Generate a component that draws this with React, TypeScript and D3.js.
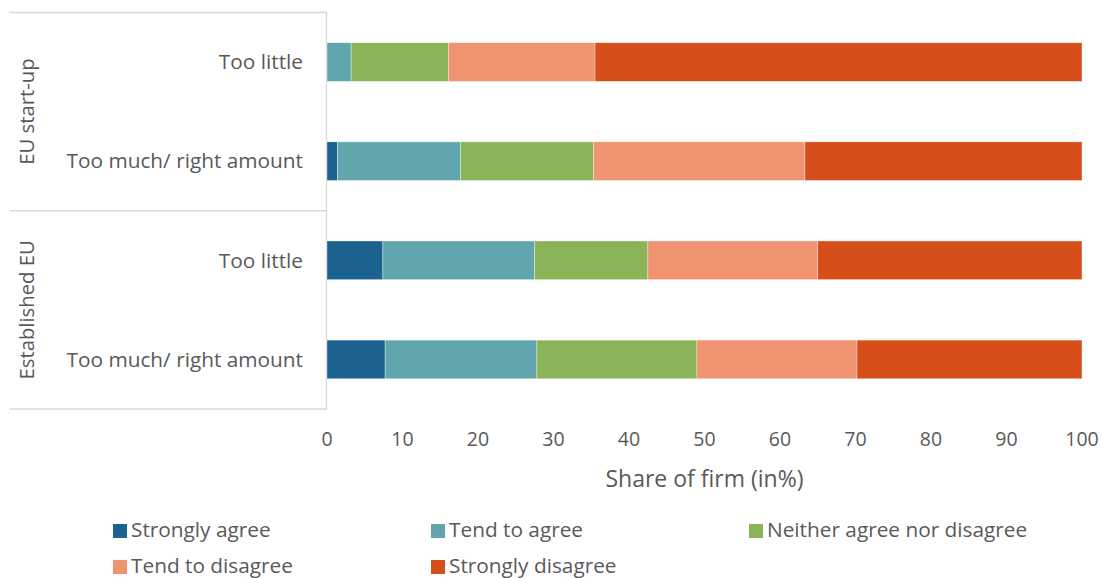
import React from "react";
import * as d3 from "d3";

const groups = ["EU start-up", "Established EU"];
const rowLabels = ["Too little", "Too much/ right amount", "Too little", "Too much/ right amount"];
const rowGroups = ["EU start-up", "EU start-up", "Established EU", "Established EU"];
const seriesNames = ["Strongly agree", "Tend to agree", "Neither agree nor disagree", "Tend to disagree", "Strongly disagree"];
const seriesColors = ["#1B6291", "#62A6AD", "#8BB357", "#EF9370", "#D64F1B"];
const stronglyAgree = [0, 1.4, 7.4, 7.7];
const tendToAgree = [3.2, 16.3, 20.1, 20.1];
const neither = [12.9, 17.6, 15.0, 21.2];
const tendToDisagree = [19.4, 28.0, 22.5, 21.2];
const stronglyDisagree = [64.5, 36.7, 35.0, 29.8];
const xTicks = [0, 10, 20, 30, 40, 50, 60, 70, 80, 90, 100];

const W = 1103;
const H = 578;
const FONT = "'Open Sans', sans-serif";
const TEXT = "#595959";
const GRID = "#D9D9D9";

export default function App() {
  const seriesValues = [stronglyAgree, tendToAgree, neither, tendToDisagree, stronglyDisagree];
  const rows = rowLabels.map((label, i) => {
    const obj: any = { id: String(i), label, group: rowGroups[i] };
    seriesNames.forEach((s, k) => (obj[s] = seriesValues[k][i]));
    return obj;
  });
  const stack = d3.stack<any>().keys(seriesNames)(rows);

  const x = d3.scaleLinear().domain([0, 100]).range([327, 1082]);
  const y = d3.scaleBand().domain(rows.map((r) => r.id)).range([12.5, 409]).paddingInner(0.61).paddingOuter(0.305);
  const bandFull = (409 - 12.5) / 4;

  const groupExtents = groups.map((g) => {
    const idx = rowGroups.map((rg, i) => (rg === g ? i : -1)).filter((i) => i >= 0);
    const top = 12.5 + idx[0] * bandFull;
    const bottom = 12.5 + (idx[idx.length - 1] + 1) * bandFull;
    return { g, top, bottom };
  });

  const legendPos = [
    { x: 113, y: 524 },
    { x: 431, y: 524 },
    { x: 749, y: 524 },
    { x: 113, y: 560 },
    { x: 431, y: 560 },
  ];

  return (
    <svg width={W} height={H} style={{ position: "absolute", left: 0, top: 0, background: "#fff" }}>
      <rect x={0} y={0} width={W} height={H} fill="#fff" />
      {groupExtents.map((e, i) => (
        <line key={"gl" + i} x1={9.5} x2={327} y1={e.top} y2={e.top} stroke={GRID} strokeWidth={1.3} />
      ))}
      <line x1={9.5} x2={327} y1={409} y2={409} stroke={GRID} strokeWidth={1.3} />
      <line x1={326.5} x2={326.5} y1={12.5} y2={409} stroke={GRID} strokeWidth={1.3} />

      {stack.map((layer, k) => (
        <g key={layer.key} fill={seriesColors[k]}>
          {layer.map((d, i) =>
            d[1] - d[0] > 0 ? (
              <rect
                key={i}
                x={x(d[0])}
                width={x(d[1]) - x(d[0])}
                y={y(String(i))}
                height={y.bandwidth()}
                stroke="#fff"
                strokeOpacity={0.6}
                strokeWidth={0.6}
              />
            ) : null
          )}
        </g>
      ))}

      {rows.map((r, i) => (
        <text
          key={"rl" + i}
          x={303}
          y={(y(String(i)) as number) + y.bandwidth() / 2}
          dy="0.35em"
          textAnchor="end"
          fontFamily={FONT}
          fontSize={20.8}
          fill={TEXT}
        >
          {r.label}
        </text>
      ))}

      {groupExtents.map((e) => (
        <text
          key={e.g}
          transform={`translate(27,${(e.top + e.bottom) / 2}) rotate(-90)`}
          dy="0.35em"
          textAnchor="middle"
          fontFamily={FONT}
          fontSize={20.3}
          fill={TEXT}
        >
          {e.g}
        </text>
      ))}

      {xTicks.map((t) => (
        <text key={t} x={x(t)} y={446} textAnchor="middle" fontFamily={FONT} fontSize={19.5} fill={TEXT}>
          {t}
        </text>
      ))}
      <text x={(x(0) + x(100)) / 2} y={487} textAnchor="middle" fontFamily={FONT} fontSize={23} fill={TEXT}>
        Share of firm (in%)
      </text>

      {seriesNames.map((s, k) => (
        <g key={s}>
          <rect x={legendPos[k].x} y={legendPos[k].y} width={14} height={14} fill={seriesColors[k]} />
          <text x={legendPos[k].x + 18} y={legendPos[k].y + 6} dy="0.35em" fontFamily={FONT} fontSize={20.8} fill={TEXT}>
            {s}
          </text>
        </g>
      ))}
    </svg>
  );
}
